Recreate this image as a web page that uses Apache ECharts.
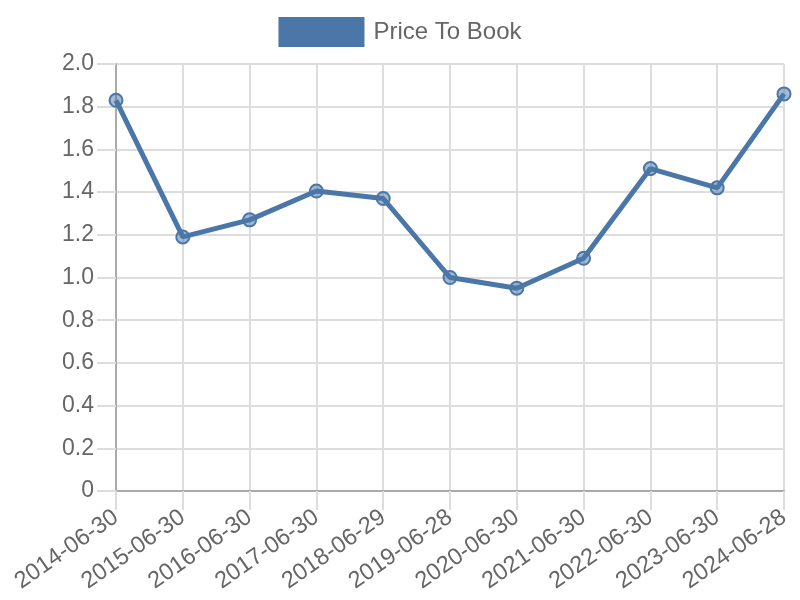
<!DOCTYPE html>
<html>
<head>
<meta charset="utf-8">
<script src="https://cdn.jsdelivr.net/npm/echarts@6/dist/echarts.min.js"></script>
<style>html,body{margin:0;padding:0;background:#fff;}#c{width:800px;height:600px;}</style>
</head>
<body>
<div id="c"></div>
<script>
const categories = ["2014-06-30","2015-06-30","2016-06-30","2017-06-30","2018-06-29","2019-06-28","2020-06-30","2021-06-30","2022-06-30","2023-06-30","2024-06-28"];
const priceToBook = [1.83, 1.19, 1.27, 1.405, 1.37, 1.00, 0.95, 1.09, 1.51, 1.42, 1.86];
const seriesName = "Price To Book";

const chart = echarts.init(document.getElementById('c'), null, {renderer: 'canvas'});
const font = "'Liberation Sans', Arial, Helvetica, sans-serif";
chart.setOption({
  animation: false,
  textStyle: {fontFamily: font},
  legend: {
    top: 12, left: 'center',
    itemWidth: 86, itemHeight: 30, itemGap: 10,
    icon: 'rect',
    textStyle: {fontSize: 24, color: '#666', fontFamily: font, padding: [0, 0, 0, 4]},
    data: [{name: seriesName, itemStyle: {color: '#4a76a8', borderWidth: 0}}]
  },
  grid: {left: 116, right: 16, top: 64, bottom: 109, containLabel: false},
  xAxis: {
    type: 'category',
    data: categories,
    boundaryGap: false,
    axisLine: {show: true, lineStyle: {color: '#aaa', width: 2}},
    axisTick: {show: true, length: 19, alignWithLabel: true, lineStyle: {color: '#ddd', width: 2}},
    splitLine: {show: true, lineStyle: {color: '#ddd', width: 2}},
    axisLabel: {rotate: 35, fontSize: 23.5, color: '#666', fontFamily: font, margin: 24, interval: 0}
  },
  yAxis: {
    type: 'value',
    min: 0, max: 2.0, interval: 0.2,
    axisLine: {show: true, lineStyle: {color: '#aaa', width: 2}},
    axisTick: {show: true, length: 19, lineStyle: {color: '#ddd', width: 2}},
    splitLine: {show: true, lineStyle: {color: '#ddd', width: 2}},
    axisLabel: {fontSize: 23, color: '#666', fontFamily: font, margin: 22,
      formatter: v => v === 0 ? '0' : v.toFixed(1)}
  },
  series: [{
    name: seriesName,
    type: 'line',
    data: priceToBook,
    symbol: 'circle',
    symbolSize: 13,
    showAllSymbol: true,
    lineStyle: {color: '#4a76a8', width: 5},
    itemStyle: {color: 'rgba(74,118,168,0.5)', borderColor: '#4a76a8', borderWidth: 2},
    emphasis: {disabled: true}
  }]
});
</script>
</body>
</html>
